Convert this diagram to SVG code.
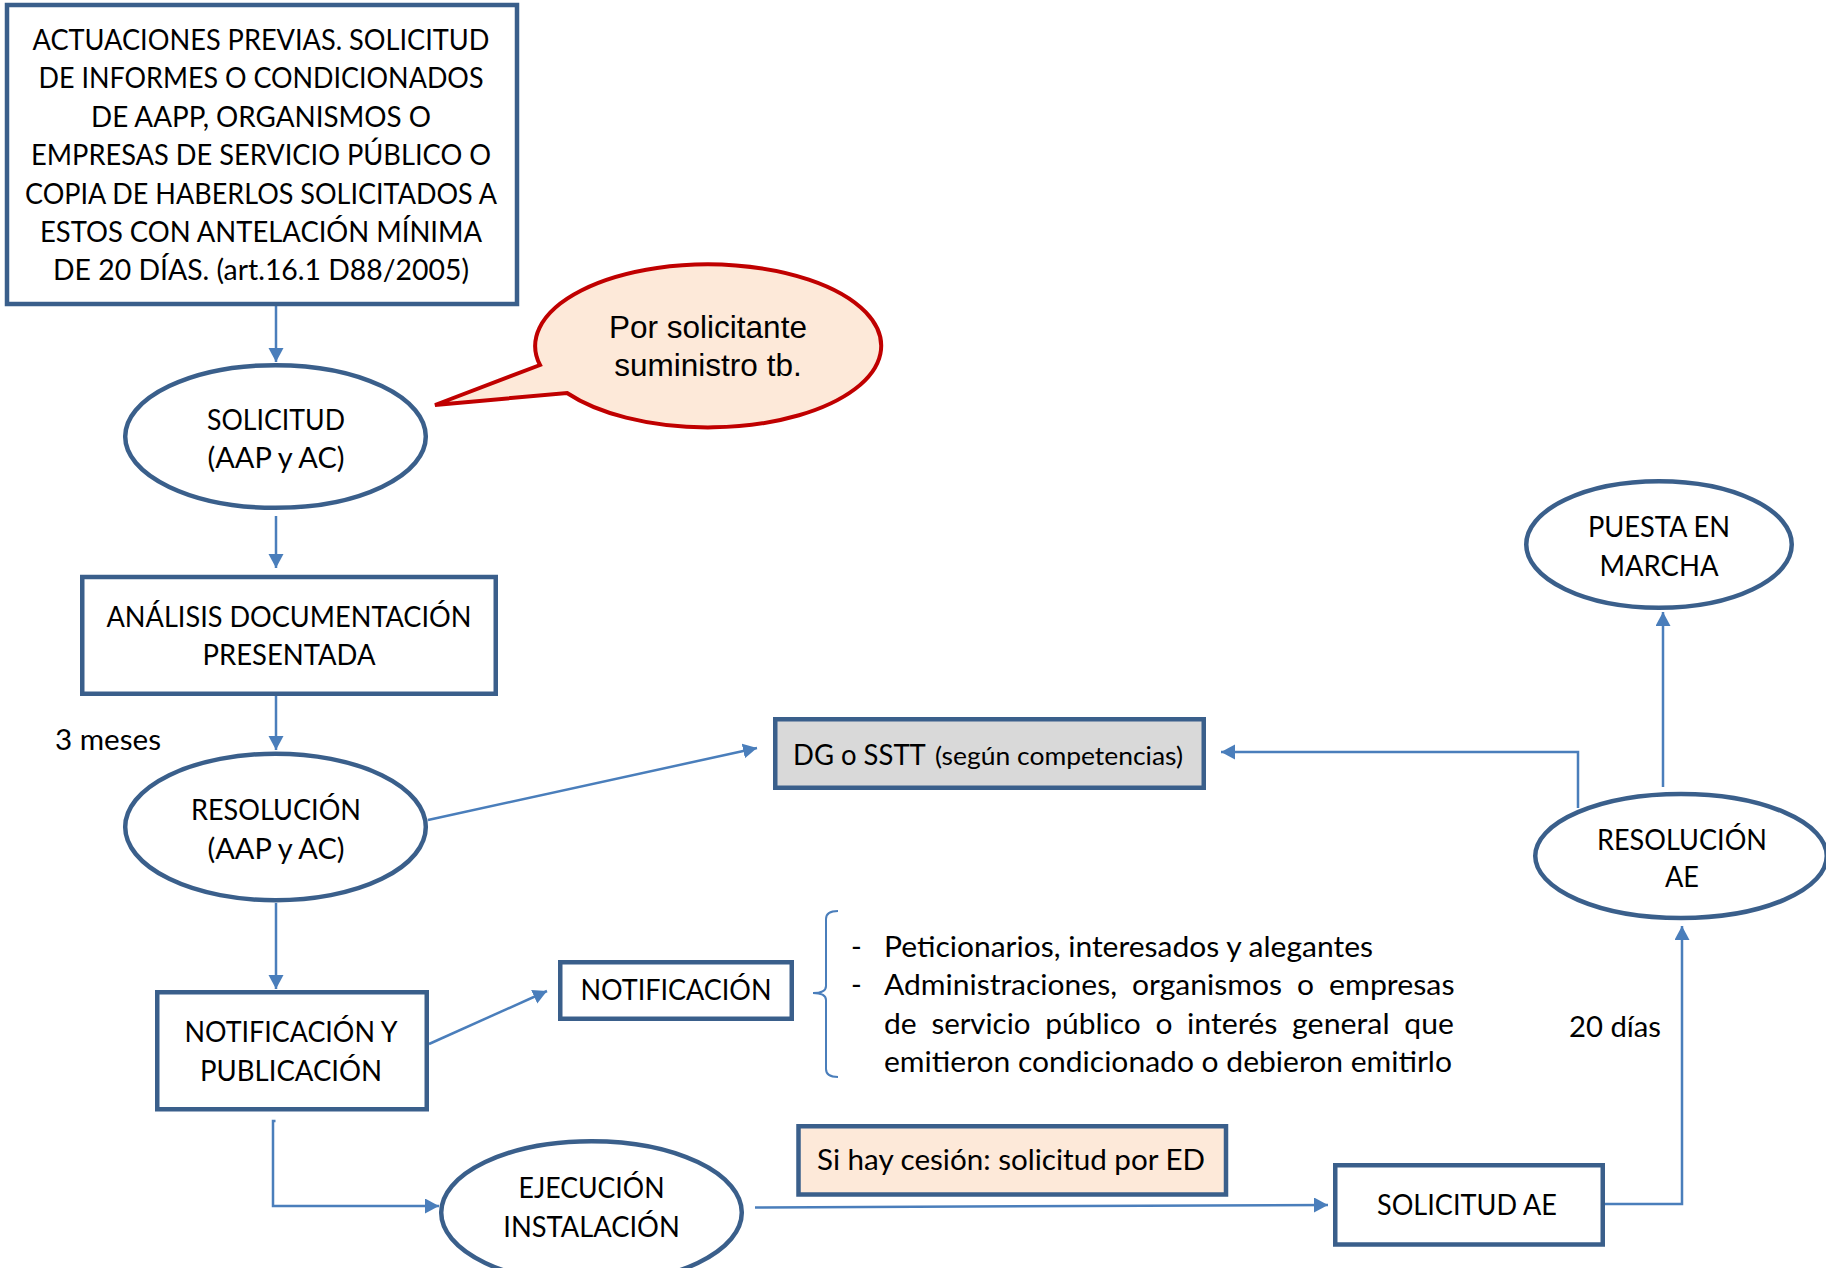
<svg xmlns="http://www.w3.org/2000/svg" width="1826" height="1268" viewBox="0 0 1826 1268">
<defs>
<style>
.node{fill:#ffffff;stroke:#3A5F8B;stroke-width:4.5}
.gray{fill:#D9D9D9}
.peach{fill:#FDE9D9}
.conn{fill:none;stroke:#4A7EBB;stroke-width:2.5}
.thin{stroke-width:2}
.t{font-family:Lato,"Liberation Sans",sans-serif;font-size:29px;fill:#000000}
.c{text-anchor:middle}
.callout{fill:#FDE9D9;stroke:#C00000;stroke-width:4}
.ct{font-family:"Liberation Sans",Arial,sans-serif;font-size:31.5px;text-anchor:middle;fill:#000000}
</style>
<marker id="ah" markerUnits="userSpaceOnUse" markerWidth="15" markerHeight="16" refX="14" refY="7.5" orient="auto" viewBox="0 0 15 16"><path d="M0,0 L14,7.5 L0,15 Z" fill="#4A7EBB"/></marker>
</defs>
<rect width="1826" height="1268" fill="#ffffff"/>

<g id="connectors">
<path class="conn" d="M276,306 V362" marker-end="url(#ah)"/>
<path class="conn" d="M276,516 V568" marker-end="url(#ah)"/>
<path class="conn" d="M276,696 V750" marker-end="url(#ah)"/>
<path class="conn" d="M276,903 V989" marker-end="url(#ah)"/>
<path class="conn" d="M428,820 L757,748" marker-end="url(#ah)"/>
<path class="conn" d="M429,1044 L547,991" marker-end="url(#ah)"/>
<path class="conn" d="M275.5,1121 H273 V1206 H439" marker-end="url(#ah)"/>
<path class="conn" d="M755,1207.5 L1328,1205" marker-end="url(#ah)"/>
<path class="conn" d="M1605,1204 H1682 V926" marker-end="url(#ah)"/>
<path class="conn" d="M1663,787 V612" marker-end="url(#ah)"/>
<path class="conn" d="M1578,808 V752 H1221" marker-end="url(#ah)"/>
</g>

<g id="n-actuaciones">
<rect class="node" x="7" y="5" width="510" height="299"/>
<text class="t c"><tspan x="261" y="50" textLength="457" lengthAdjust="spacingAndGlyphs">ACTUACIONES PREVIAS. SOLICITUD</tspan><tspan x="261" y="88.4" textLength="445" lengthAdjust="spacingAndGlyphs">DE INFORMES O CONDICIONADOS</tspan><tspan x="261" y="126.8" textLength="340" lengthAdjust="spacingAndGlyphs">DE AAPP, ORGANISMOS O</tspan><tspan x="261" y="165.2" textLength="460" lengthAdjust="spacingAndGlyphs">EMPRESAS DE SERVICIO PÚBLICO O</tspan><tspan x="261" y="203.6" textLength="472" lengthAdjust="spacingAndGlyphs">COPIA DE HABERLOS SOLICITADOS A</tspan><tspan x="261" y="242" textLength="442" lengthAdjust="spacingAndGlyphs">ESTOS CON ANTELACIÓN MÍNIMA</tspan><tspan x="261" y="280.4" textLength="416" lengthAdjust="spacingAndGlyphs">DE 20 DÍAS. (art.16.1 D88/2005)</tspan></text>
</g>

<g id="n-callout">
<path class="callout" d="M540,365 A173,81.5 0 1 1 567,393 L435,405 Z"/>
<text class="ct"><tspan x="708" y="338">Por solicitante</tspan><tspan x="708" y="376">suministro tb.</tspan></text>
</g>

<g id="n-solicitud">
<ellipse class="node" cx="275.5" cy="436.5" rx="150.3" ry="71.3"/>
<text class="t c"><tspan x="276" y="430" textLength="138" lengthAdjust="spacingAndGlyphs">SOLICITUD</tspan><tspan x="276" y="468.4" textLength="137" lengthAdjust="spacingAndGlyphs">(AAP y AC)</tspan></text>
</g>

<g id="n-analisis">
<rect class="node" x="82.25" y="577" width="413.5" height="116.75"/>
<text class="t c"><tspan x="289" y="627" textLength="365" lengthAdjust="spacingAndGlyphs">ANÁLISIS DOCUMENTACIÓN</tspan><tspan x="289" y="665.4" textLength="173" lengthAdjust="spacingAndGlyphs">PRESENTADA</tspan></text>
</g>

<g id="l-3meses"><text class="t" x="55" y="750" textLength="106" lengthAdjust="spacingAndGlyphs">3 meses</text></g>

<g id="n-resolucion">
<ellipse class="node" cx="275.5" cy="827" rx="150.3" ry="73.3"/>
<text class="t c"><tspan x="276" y="820.4" textLength="170" lengthAdjust="spacingAndGlyphs">RESOLUCIÓN</tspan><tspan x="276" y="858.8" textLength="137" lengthAdjust="spacingAndGlyphs">(AAP y AC)</tspan></text>
</g>

<g id="n-dg">
<rect class="node gray" x="775.25" y="719.25" width="428.5" height="68.5"/>
<text class="t" y="765"><tspan x="793" font-size="29" textLength="132" lengthAdjust="spacingAndGlyphs">DG o SSTT</tspan> <tspan x="935" font-size="25.5" textLength="248" lengthAdjust="spacingAndGlyphs">(según competencias)</tspan></text>
</g>

<g id="n-puesta">
<ellipse class="node" cx="1659" cy="544.5" rx="132.75" ry="63.25"/>
<text class="t c"><tspan x="1659" y="537" textLength="142" lengthAdjust="spacingAndGlyphs">PUESTA EN</tspan><tspan x="1659" y="576" textLength="119" lengthAdjust="spacingAndGlyphs">MARCHA</tspan></text>
</g>

<g id="n-resolucion-ae">
<ellipse class="node" cx="1681" cy="856" rx="145.75" ry="62"/>
<text class="t c"><tspan x="1682" y="850" textLength="170" lengthAdjust="spacingAndGlyphs">RESOLUCIÓN</tspan><tspan x="1682" y="887" textLength="34" lengthAdjust="spacingAndGlyphs">AE</tspan></text>
</g>

<g id="n-notif-pub">
<rect class="node" x="157.25" y="992.25" width="269.5" height="117"/>
<text class="t c"><tspan x="291" y="1042" textLength="213" lengthAdjust="spacingAndGlyphs">NOTIFICACIÓN Y</tspan><tspan x="291" y="1080.6" textLength="182" lengthAdjust="spacingAndGlyphs">PUBLICACIÓN</tspan></text>
</g>

<g id="n-notificacion">
<rect class="node" x="560.25" y="962.25" width="231.5" height="56.5"/>
<text class="t c" x="676" y="1000" textLength="191" lengthAdjust="spacingAndGlyphs">NOTIFICACIÓN</text>
</g>

<g id="brace-list">
<path class="conn thin" d="M838,911 Q826,911 826,919 V986 Q826,993 813,993 Q826,993 826,1000 V1069 Q826,1077 838,1077"/>
<text class="t" x="851" y="957">-</text>
<text class="t" x="884" y="957" textLength="489" lengthAdjust="spacingAndGlyphs">Peticionarios, interesados y alegantes</text>
<text class="t" x="851" y="995.4">-</text>
<text class="t" y="995.4"><tspan x="884" textLength="233" lengthAdjust="spacingAndGlyphs">Administraciones,</tspan> <tspan x="1132" textLength="150" lengthAdjust="spacingAndGlyphs">organismos</tspan> <tspan x="1297" textLength="17" lengthAdjust="spacingAndGlyphs">o</tspan> <tspan x="1329" textLength="125.5" lengthAdjust="spacingAndGlyphs">empresas</tspan></text>
<text class="t" y="1033.8"><tspan x="884" textLength="32.7" lengthAdjust="spacingAndGlyphs">de</tspan> <tspan x="931.4" textLength="99" lengthAdjust="spacingAndGlyphs">servicio</tspan> <tspan x="1045.2" textLength="95.5" lengthAdjust="spacingAndGlyphs">público</tspan> <tspan x="1155.4" textLength="17" lengthAdjust="spacingAndGlyphs">o</tspan> <tspan x="1187" textLength="90.4" lengthAdjust="spacingAndGlyphs">interés</tspan> <tspan x="1292.1" textLength="97.5" lengthAdjust="spacingAndGlyphs">general</tspan> <tspan x="1404.3" textLength="49.5" lengthAdjust="spacingAndGlyphs">que</tspan></text>
<text class="t" x="884" y="1072.2" textLength="568" lengthAdjust="spacingAndGlyphs">emitieron condicionado o debieron emitirlo</text>
</g>

<g id="l-20dias"><text class="t" x="1569" y="1037" textLength="92" lengthAdjust="spacingAndGlyphs">20 días</text></g>

<g id="n-ejecucion">
<ellipse class="node" cx="591.5" cy="1212.5" rx="150.3" ry="71.3"/>
<text class="t c"><tspan x="591.5" y="1198" textLength="146" lengthAdjust="spacingAndGlyphs">EJECUCIÓN</tspan><tspan x="591.5" y="1236.7" textLength="176.5" lengthAdjust="spacingAndGlyphs">INSTALACIÓN</tspan></text>
</g>

<g id="n-cesion">
<rect class="node peach" x="798.5" y="1126.25" width="427.5" height="68.25"/>
<text class="t c" x="1011" y="1170" textLength="388" lengthAdjust="spacingAndGlyphs">Si hay cesión: solicitud por ED</text>
</g>

<g id="n-solicitud-ae">
<rect class="node" x="1335.25" y="1165.25" width="267.5" height="79.25"/>
<text class="t c" x="1467" y="1215" textLength="180" lengthAdjust="spacingAndGlyphs">SOLICITUD AE</text>
</g>
</svg>
